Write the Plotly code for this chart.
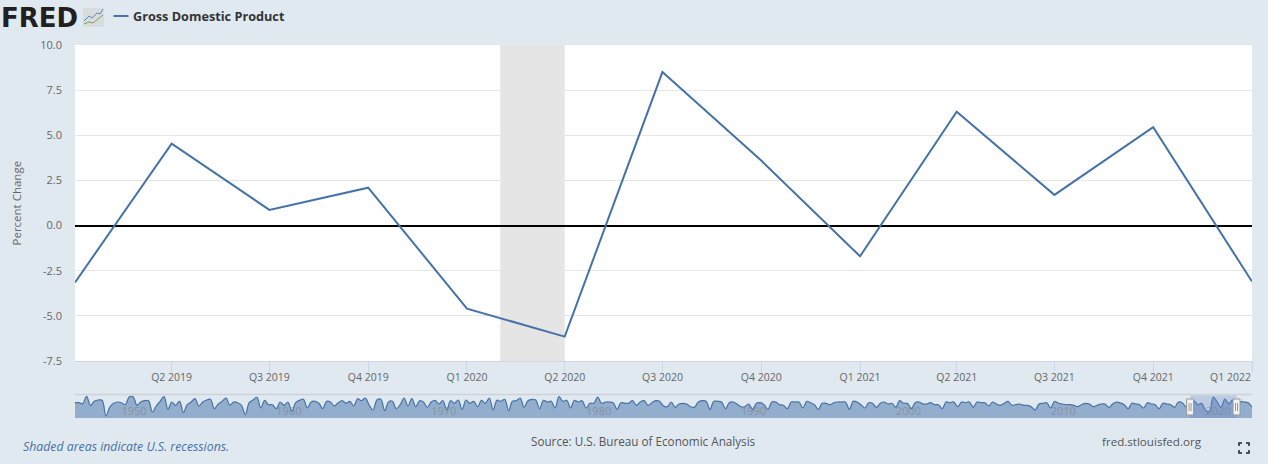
import pandas as pd
import plotly.graph_objects as go

# main series
quarters = ['2019-01-01', '2019-04-01', '2019-07-01', '2019-10-01', '2020-01-01', '2020-04-01', '2020-07-01',
            '2020-10-01', '2021-01-01', '2021-04-01', '2021-07-01', '2021-10-01', '2022-01-01']
gdp_change = [-3.15, 4.54, 0.87, 2.1, -4.6, -6.15, 8.5, 3.6, -1.7, 6.3, 1.7, 5.45, -3.1]

tick_dates = quarters[1:]
tick_labels = ['Q2 2019', 'Q3 2019', 'Q4 2019', 'Q1 2020', 'Q2 2020', 'Q3 2020', 'Q4 2020',
               'Q1 2021', 'Q2 2021', 'Q3 2021', 'Q4 2021', '']
last_tick_label = 'Q1 2022'
y_ticks = [-7.5, -5, -2.5, 0, 2.5, 5, 7.5, 10]
y_labels = ['-7.5', '-5.0', '-2.5', '0.0', '2.5', '5.0', '7.5', '10.0']

recession_start = '2020-02-01'
recession_end = '2020-04-01'

# navigator series 1947 - 2018, one value per quarter, estimated from the small strip
nav_history = [
    2.8, 2.8, 1.8, 9.2, 0.2, 4.2, 5.5, 5.2, -10.5, -1.5, 2.2, 3.5, 2.8, 0.8, 8.5, 8.8, 0.2, 3.5, 4.8, 4.8,
    -6.5, -0.5, 4.2, 8.8, -3.8, 3.5, 0.2, 4.2, -7.2, 0.8, 3.5, 6.8, -0.5, 3.5, 5.5, 6.2, -3.2, 1.5, 4.2, 7.5,
    0.2, 3.5, 2.8, 0.2, -9.2, 2.8, 5.5, 8.2, -2.5, 5.2, 0.8, 0.8,
    -3.2, 3.5, 0.2, 3.5, -5.8, 2.8, 5.2, 6.2, -2.5, 3.5, 4.2, 2.2, -3.2, 4.2, 3.5, -0.5, 2.8, 4.8,
    2.2, 4.2, -0.5, 6.8, 4.8, 7.5, 0.2, -4.5, 5.5, 6.2, -5.2, 3.5, 4.2, -3.2, 0.8, 7.5, -0.5, 6.8,
    -1.2, 4.8, 3.5, -1.8, 3.5, 5.2, 1.5, 4.8, -4.5, 4.8, 2.2, 5.5, -3.8, 5.5, 2.2,
    4.2, -1.2, 5.2, 2.2, 7.5, -4.5, 5.2, 4.2, 6.2, -5.2, 4.2, 4.8, 7.5, -1.8, 4.8, 6.2, 5.5, -3.2, 5.2, 3.5,
    4.2, -2.5, 8.8, 4.2, 5.2, -2.5, 5.2, 3.5, 4.8, -2.5, 2.2, 2.2, 8.5, 2.2, 3.5, 3.5, 2.8, -3.8, 2.8, 2.2,
    2.2, 4.8, 0.2, 3.5, 4.8, 0.2, 2.8, 4.8, 4.2, -0.5, -1.2, 3.5,
    -1.8, 1.5, 2.2, 1.5, -1.2, -1.8, 3.5, 4.8, 4.2, -3.8, 4.2, 4.2, 3.5, -3.2, 2.8, 3.5, 1.5, -1.2, -1.2, 1.5,
    -3.8, 2.2, 2.8, 0.8, -3.8, 3.5, 3.5, 0.8, 0.2, -3.2, 3.5, 3.5, 3.5, -2.5, 4.2, 2.8, 0.8, -3.8, 2.2, 2.2,
    0.8, 2.8, 3.5, 3.5, 3.5, -3.8, 4.2, 3.5, 0.8, -2.5, 2.8,
    2.2, -1.8, 2.2, 3.5, 1.5, 2.2, -1.8, 4.8, 2.2, 2.2, -3.2, 2.8, 3.5, 1.5, 1.5, 2.8, 0.8, 0.8, -3.2, 3.5,
    2.8, 3.5, -1.2, 3.5, 2.8, 3.5, -1.8, 3.5, 2.8, 2.8, -0.5, 3.5, 1.5, 0.2, 2.2, 4.2, 0.2, 0.8, 1.5, 0.2,
    0.2, -1.2, -4.5, 1.5, 2.2, 2.8, -2.5, 4.2, 2.2, 1.5, 0.8,
    0.8, 0.2, -1.2, 0.8, 2.2, 1.5, -1.2, 0.2, 1.5, 1.5, -1.8, 1.5, 3.5, 2.5, 0.8, -3.2, 2.2, 1.5, 0.8, -2.5,
    2.8, 1.5, 0.8, -3.2, 2.2, 1.5, 0.8, -1.8, 3.5, 2.8, -1.8,
]
nav_recent = [3.5, 3.5, 2.8, -1.5]
nav_values = nav_history + gdp_change + nav_recent
nav_dates = pd.date_range(end='2023-01-01', periods=len(nav_values), freq='QS')
nav_floor = -12.5
nav_ceiling = 10
nav_years = ['1950-01-01', '1960-01-01', '1970-01-01', '1980-01-01', '1990-01-01', '2000-01-01', '2010-01-01', '2020-01-01']
nav_year_labels = ['1950', '1960', '1970', '1980', '1990', '2000', '2010', '2020']

W = 1268
H = 464
BG = '#e1e9f0'
BLUE = '#4572a7'


def px(x):
    return x / W


def py(y):
    return 1 - y / H


fig = go.Figure()
fig.add_trace(go.Scatter(x=quarters, y=gdp_change, mode='lines', name='Gross Domestic Product',
                         line=dict(color=BLUE, width=2), xaxis='x', yaxis='y'))
fig.add_trace(go.Scatter(x=[nav_dates[0], nav_dates[-1]], y=[nav_floor, nav_floor], mode='lines',
                         line=dict(width=0), hoverinfo='skip', xaxis='x2', yaxis='y2'))
fig.add_trace(go.Scatter(x=nav_dates, y=nav_values, mode='lines', fill='tonexty', fillcolor='rgba(69,114,167,0.5)',
                         line=dict(color=BLUE, width=1.2, shape='spline', smoothing=1), xaxis='x2', yaxis='y2'))

fig.update_layout(
    width=W, height=H, autosize=False, showlegend=False,
    margin=dict(l=0, r=0, t=0, b=0, autoexpand=False),
    paper_bgcolor=BG, plot_bgcolor='rgba(0,0,0,0)',
    font=dict(family='Open Sans', size=11, color='#666666'),
    xaxis=dict(domain=[px(75), px(1252)], anchor='y', type='date', range=[quarters[0], quarters[-1]],
               tickmode='array', tickvals=tick_dates, ticktext=tick_labels,
               ticks='outside', ticklen=10, tickcolor='#ccd6eb', tickwidth=1, ticklabelstandoff=-4,
               showgrid=False, showline=True, linecolor='#ccd6eb', zeroline=False,
               tickfont=dict(size=10.5, color='#666666')),
    yaxis=dict(domain=[py(361), py(45)], anchor='x', range=[-7.5, 10],
               tickmode='array', tickvals=y_ticks, ticktext=y_labels, ticks='', ticklabelstandoff=12,
               gridcolor='#e6e6e6', gridwidth=1, zeroline=True, zerolinecolor='black', zerolinewidth=2,
               tickfont=dict(size=11, color='#666666')),
    xaxis2=dict(domain=[px(75), px(1252)], anchor='y2', type='date', range=['1947-01-01', '2023-01-01'],
                tickmode='array', tickvals=nav_years, ticktext=nav_year_labels, ticks='',
                ticklabelposition='inside right', ticklabelstandoff=-5, showgrid=False, zeroline=False, showline=False,
                tickfont=dict(size=11, color='rgba(120,120,120,0.55)')),
    yaxis2=dict(domain=[py(418), py(395.5)], anchor='x2', range=[nav_floor, nav_ceiling],
                showticklabels=False, showgrid=False, zeroline=False, ticks=''),
)

# plot background, recession band and navigator window
fig.add_shape(type='rect', xref='paper', yref='paper', x0=px(75), x1=px(1252), y0=py(361), y1=py(45),
              fillcolor='white', line_width=0, layer='below')
fig.add_shape(type='rect', xref='x', yref='y domain', x0=recession_start, x1=recession_end, y0=0, y1=1,
              fillcolor='#e5e5e5', line_width=0, layer='below')
fig.add_shape(type='line', xref='paper', yref='paper', x0=px(75), x1=px(1252), y0=py(394.5), y1=py(394.5),
              line=dict(color='#cdd2d8', width=1.5))
fig.add_shape(type='line', xref='paper', yref='paper', x0=px(1252), x1=px(1252), y0=py(361), y1=py(371),
              line=dict(color='#ccd6eb', width=1))
fig.add_shape(type='rect', xref='x2', yref='y2 domain', x0=quarters[0], x1=quarters[-1], y0=0, y1=1,
              fillcolor='rgba(102,133,194,0.3)', line_width=0)
for d in [quarters[0], quarters[-1]]:
    fig.add_shape(type='rect', xref='x2', yref='paper', xsizemode='pixel', xanchor=d, x0=-3.5, x1=3.5,
                  y0=py(415), y1=py(399), fillcolor='#f2f2f2', line=dict(color='#999999', width=1))
    for off in [-1, 1]:
        fig.add_shape(type='line', xref='x2', yref='paper', xsizemode='pixel', xanchor=d, x0=off, x1=off,
                      y0=py(411), y1=py(403), line=dict(color='#999999', width=1))

# logo icon, legend key, fullscreen icon
fig.add_shape(type='rect', xref='paper', yref='paper', x0=px(83), x1=px(104), y0=py(27), y1=py(8),
              fillcolor='#d9dcdc', line_width=0)
fig.add_shape(type='path', xref='paper', yref='paper', line=dict(color='#5b86b5', width=1),
              path=f'M {px(84)} {py(21)} L {px(89)} {py(16)} L {px(92)} {py(18)} L {px(97)} {py(13)} L {px(100)} {py(14)} L {px(103)} {py(9)}')
fig.add_shape(type='path', xref='paper', yref='paper', line=dict(color='#7fa650', width=1),
              path=f'M {px(84)} {py(24)} L {px(89)} {py(22)} L {px(93)} {py(23)} L {px(98)} {py(19)} L {px(103)} {py(15)}')
fig.add_shape(type='line', xref='paper', yref='paper', x0=px(113.5), x1=px(128.5), y0=py(16), y1=py(16),
              line=dict(color=BLUE, width=2))
for a, b, c in [(1239, 443, 1), (1249, 443, -1)]:
    fig.add_shape(type='path', xref='paper', yref='paper', line=dict(color='#222222', width=1.5),
                  path=f'M {px(a)} {py(b + 3)} L {px(a)} {py(b)} L {px(a + 3 * c)} {py(b)}')
    fig.add_shape(type='path', xref='paper', yref='paper', line=dict(color='#222222', width=1.5),
                  path=f'M {px(a)} {py(b + 7)} L {px(a)} {py(b + 10)} L {px(a + 3 * c)} {py(b + 10)}')


def label(x, y, text, **kw):
    fig.add_annotation(xref='paper', yref='paper', x=px(x), y=py(y), text=text, showarrow=False,
                       xanchor=kw.pop('xanchor', 'left'), yanchor='middle', borderpad=0, **kw)


label(0, 17.5, '<b>FRED</b>', font=dict(family='DejaVu Sans', size=26, color='#231f20'))
label(132, 16.5, '<b>Gross Domestic Product</b>', font=dict(family='Open Sans', size=12.7, color='#333333'))
label(15.5, 203, 'Percent Change', xanchor='center', textangle=-90, font=dict(family='Open Sans', size=11.5, color='#666666'))
label(1252, 377, last_tick_label, xanchor='right', font=dict(family='Open Sans', size=10.5, color='#666666'))
label(22, 446, '<i>Shaded areas indicate U.S. recessions.</i>', font=dict(family='Open Sans', size=12.3, color=BLUE))
label(530, 441, 'Source: U.S. Bureau of Economic Analysis', font=dict(family='Open Sans', size=11.7, color='#555555'))
label(1101, 441, 'fred.stlouisfed.org', font=dict(family='Open Sans', size=11.6, color='#555555'))

fig.write_html("out.html", config=dict(displayModeBar=False),
               post_script="document.body.style.margin='0'")
